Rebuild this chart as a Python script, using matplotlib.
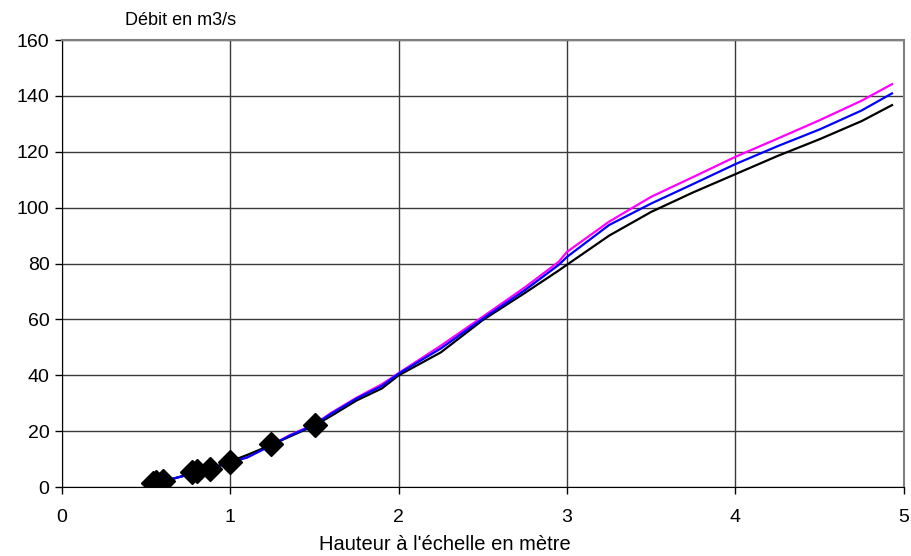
import matplotlib
matplotlib.use("Agg")
import matplotlib.pyplot as plt

plt.rcParams['font.family'] = ['Liberation Sans', 'DejaVu Sans']

# Jaugeages (points mesures)
hauteur_mes = [0.54, 0.56, 0.60, 0.77, 0.80, 0.88, 1.00, 1.24, 1.50]
debit_mes = [1.5, 1.7, 2.1, 5.3, 5.7, 6.3, 9.0, 15.5, 22.3]

# Courbes de tarage
hauteur = [0.6, 0.77, 0.88, 1.0, 1.1, 1.24, 1.35, 1.5, 1.6, 1.75, 1.9, 2.0,
           2.25, 2.5, 2.75, 2.95, 3.0, 3.25, 3.5, 3.75, 4.0, 4.25, 4.5, 4.75, 4.93]
debit_noir = [2.0, 4.8, 6.5, 9.2, 11.5, 15.0, 18.0, 22.0, 25.5, 31.0, 35.3, 40.0,
              48.2, 59.8, 69.5, 77.5, 79.6, 90.0, 98.5, 105.5, 112.0, 118.5, 124.5, 131.0, 136.7]
debit_bleu = [2.0, 4.8, 6.5, 8.8, 10.6, 14.8, 18.3, 22.3, 26.3, 31.7, 36.2, 40.6,
              49.6, 60.3, 70.5, 79.5, 82.4, 93.8, 101.5, 108.5, 115.6, 122.0, 128.0, 134.8, 140.9]
debit_rose = [2.0, 4.8, 6.5, 8.8, 10.6, 14.9, 18.5, 22.5, 26.6, 32.0, 36.8, 40.8,
              50.6, 61.0, 71.5, 80.6, 84.2, 95.0, 103.9, 111.0, 118.2, 124.7, 131.3, 138.3, 144.2]

fig = plt.figure(figsize=(9.12, 5.56), dpi=100)
ax = fig.add_axes([0.068, 0.124, 0.923, 0.804])

ax.plot(hauteur, debit_rose, color='#ff00ff', lw=1.6, zorder=3)
ax.plot(hauteur, debit_noir, color='black', lw=1.6, zorder=3)
ax.plot(hauteur, debit_bleu, color='#0000ff', lw=1.6, zorder=4)
ax.plot(hauteur_mes, debit_mes, 'D', color='black', markersize=12, ls='none', zorder=5)

ax.set_xlim(0, 5)
ax.set_ylim(0, 160)
ax.set_xticks([0, 1, 2, 3, 4, 5])
ax.set_yticks(range(0, 161, 20))
ax.grid(True, color='#3a3a3a', lw=1)
ax.set_axisbelow(True)

for s in ['top', 'right']:
    ax.spines[s].set_color('#808080')
    ax.spines[s].set_linewidth(1.5)
ax.spines['left'].set_color('black')
ax.spines['bottom'].set_color('black')

ax.tick_params(axis='both', direction='out', length=5, width=1, labelsize=14, pad=4)
ax.tick_params(axis='x', pad=11)

fig.text(0.137, 0.964, "Débit en m3/s", fontsize=13, va='center', ha='left')
fig.text(0.488, 0.02, "Hauteur à l'échelle en mètre", fontsize=14.5, va='center', ha='center')

plt.savefig("out.png", dpi=100)
